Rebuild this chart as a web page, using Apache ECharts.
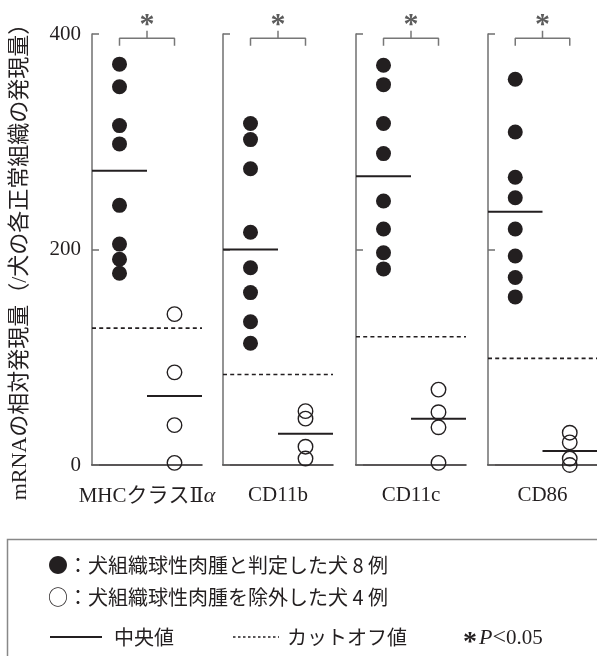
<!DOCTYPE html>
<html><head><meta charset="utf-8">
<script src="https://cdn.jsdelivr.net/npm/echarts@6/dist/echarts.min.js"></script>
<style>html,body{margin:0;padding:0;background:#fff}#c{width:597px;height:656px}</style>
</head><body><div id="c"></div>
<script>
// ---- data ----
const categories = ['MHCクラスⅡα', 'CD11b', 'CD11c', 'CD86'];
const positiveDogs = [
  [372, 351, 315, 298, 241, 205, 191, 178],
  [317, 302, 275, 216, 183, 160, 133, 113],
  [371, 353, 317, 289, 245, 219, 197, 182],
  [358, 309, 267, 248, 219, 194, 174, 156]
];
const excludedDogs = [
  [140, 86, 37, 2],
  [50, 43, 17, 6],
  [70, 49, 35, 2],
  [30, 21, 6, 0]
];
const positiveMedian = [273, 200, 268, 235];
const excludedMedian = [64, 29, 43, 13];
const cutoffValue = [127, 84, 119, 99];
const yTicks = [0, 200, 400];
const yTitle = 'mRNAの相対発現量（/犬の各正常組織の発現量）';
const significance = ['*', '*', '*', '*'];

// ---- layout ----
const gridLefts = [92, 223, 356, 488];
const gridWidth = 110;
const gridTop = 34, gridBottomY = 465;
const serif = "'Liberation Serif', 'DejaVu Serif', 'Noto Sans CJK JP', serif";
const jp = "'Noto Sans CJK JP', 'Liberation Serif', sans-serif";
const ink = '#231f20';
const axisGrey = '#6f6f6f';
const bracketGrey = '#777';

// wrap Greek letters in an italic rich-text style
function richName(s) {
  return s.replace(/([α-ω]+)/g, '{g|$1}').replace(/^([^{]+)/, '{t|$1}').replace(/\}([^{]+)$/, '}{t|$1}');
}

const grids = [], xAxes = [], yAxes = [], series = [];
categories.forEach((cat, i) => {
  grids.push({left: gridLefts[i], width: gridWidth, top: gridTop, height: gridBottomY - gridTop});
  xAxes.push({
    gridIndex: i, type: 'value', min: 0, max: 2,
    axisLine: {show: true, onZero: false, lineStyle: {color: ink, width: 1.5}},
    axisTick: {show: false}, axisLabel: {show: false}, splitLine: {show: false},
    name: richName(cat), nameLocation: 'middle', nameGap: 20,
    nameTextStyle: {fontFamily: serif, fontSize: 21, color: ink,
      rich: {t: {fontFamily: serif, fontSize: 21, color: ink},
             g: {fontFamily: serif, fontStyle: 'italic', fontSize: 22, color: ink}}}
  });
  yAxes.push({
    gridIndex: i, type: 'value', min: yTicks[0], max: yTicks[yTicks.length - 1],
    interval: yTicks[1] - yTicks[0],
    axisLine: {show: true, lineStyle: {color: axisGrey, width: 1.5}},
    axisTick: {show: true, inside: true, length: 7, lineStyle: {color: axisGrey, width: 1.5}},
    axisLabel: {show: i === 0, margin: 11, fontFamily: serif, fontSize: 21, color: ink},
    splitLine: {show: false},
    name: i === 0 ? yTitle : '', nameLocation: 'middle', nameGap: 61, nameRotate: 90,
    nameTextStyle: {fontFamily: serif, fontSize: 22, color: ink, padding: [0, 14, 0, 0]}
  });
  // filled circles
  series.push({
    type: 'scatter', xAxisIndex: i, yAxisIndex: i, symbolSize: 15, z: 3,
    itemStyle: {color: ink, opacity: 1},
    data: positiveDogs[i].map(v => [0.5, v])
  });
  // open circles
  series.push({
    type: 'scatter', xAxisIndex: i, yAxisIndex: i, symbolSize: 14.5, clip: false, z: 3,
    itemStyle: {color: 'rgba(0,0,0,0)', borderColor: ink, borderWidth: 1.4, opacity: 1},
    data: excludedDogs[i].map(v => [1.5, v])
  });
  const lineBase = {type: 'line', xAxisIndex: i, yAxisIndex: i, symbol: 'none', silent: true, clip: false, animation: false};
  series.push(Object.assign({}, lineBase, {lineStyle: {color: ink, width: 2}, z: 4,
    data: [[0, positiveMedian[i]], [1, positiveMedian[i]]]}));
  series.push(Object.assign({}, lineBase, {lineStyle: {color: ink, width: 2}, z: 4,
    data: [[1, excludedMedian[i]], [2, excludedMedian[i]]]}));
  series.push(Object.assign({}, lineBase, {lineStyle: {color: ink, width: 1.6, type: [4, 3.2]}, z: 2,
    data: [[0, cutoffValue[i]], [2, cutoffValue[i]]]}));
  // significance bracket (drawn just above the 400 tick)
  series.push(Object.assign({}, lineBase, {lineStyle: {color: bracketGrey, width: 1.5}, z: 2,
    data: [[0.5, 389], [0.5, 396], [1.5, 396], [1.5, 389]]}));
  series.push(Object.assign({}, lineBase, {lineStyle: {color: bracketGrey, width: 1.5}, z: 2,
    data: [[1, 396], [1, 403]]}));
  series.push({
    type: 'scatter', xAxisIndex: i, yAxisIndex: i, symbolSize: 1, clip: false, silent: true,
    itemStyle: {color: 'rgba(0,0,0,0)'},
    label: {show: true, position: 'inside', formatter: significance[i],
      fontFamily: serif, fontWeight: 'bold', fontSize: 30, color: '#333', offset: [0, 5]},
    data: [[1, 413]]
  });
});

const chart = echarts.init(document.getElementById('c'), null, {renderer: 'canvas'});
chart.setOption({
  animation: false,
  backgroundColor: '#fff',
  grid: grids, xAxis: xAxes, yAxis: yAxes, series: series,
  graphic: [
    {type: 'rect', shape: {x: 7.5, y: 539.5, width: 600, height: 130},
      style: {fill: 'none', stroke: '#888', lineWidth: 1.5}},
    {type: 'text', x: 48, y: 565, style: {text: '●：犬組織球性肉腫と判定した犬 8 例', font: '20px ' + jp, fill: ink, verticalAlign: 'middle'}},
    {type: 'text', x: 48, y: 597, style: {text: '○：犬組織球性肉腫を除外した犬 4 例', font: '20px ' + jp, fill: ink, verticalAlign: 'middle'}},
    {type: 'line', shape: {x1: 50, y1: 637, x2: 102, y2: 637}, style: {stroke: ink, lineWidth: 1.8}},
    {type: 'text', x: 114, y: 637, style: {text: '中央値', font: '20px ' + jp, fill: ink, verticalAlign: 'middle'}},
    {type: 'line', shape: {x1: 233, y1: 637, x2: 279, y2: 637}, style: {stroke: ink, lineWidth: 1.4, lineDash: [2.5, 2.5]}},
    {type: 'text', x: 287, y: 637, style: {text: 'カットオフ値', font: '20px ' + jp, fill: ink, verticalAlign: 'middle'}},
    {type: 'text', x: 463, y: 638, style: {
      text: '{a|*}{p|P}{b|<}{c|0.05}', verticalAlign: 'middle',
      rich: {a: {font: 'bold 28px ' + serif, fill: ink, padding: [10, 2, 0, 0]}, p: {font: 'italic 22px ' + serif, fill: ink},
             b: {font: '24px ' + serif, fill: ink}, c: {font: '21px ' + serif, fill: ink}}
    }}
  ]
});
</script></body></html>
